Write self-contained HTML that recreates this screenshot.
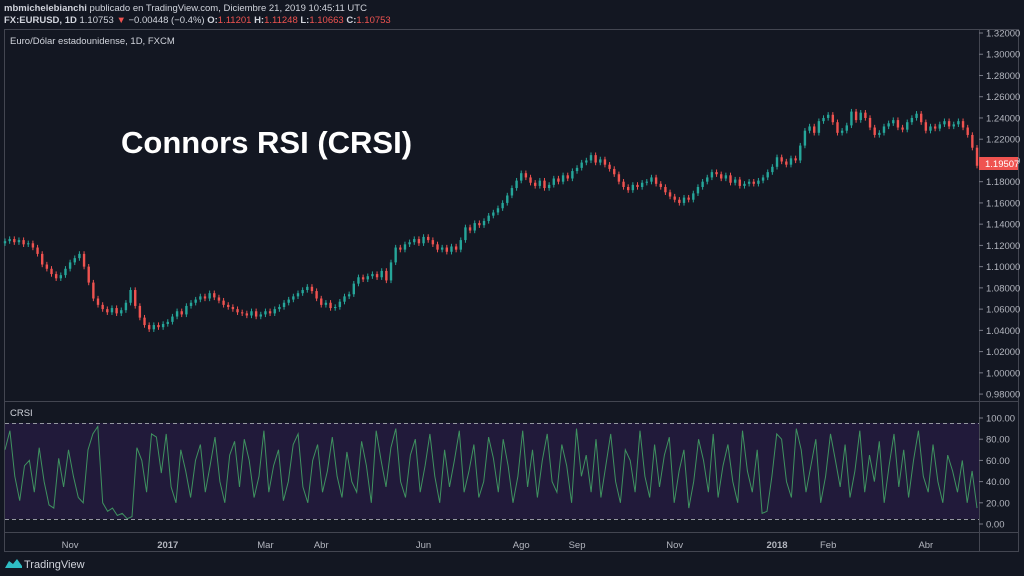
<!DOCTYPE html>
<html><head><meta charset="utf-8"><style>
html,body{margin:0;padding:0;background:#131722;width:1024px;height:576px;overflow:hidden;font-family:"Liberation Sans",sans-serif;}
svg{display:block}
</style></head><body>
<svg id="c" width="1024" height="576" xmlns="http://www.w3.org/2000/svg">
<rect x="0" y="0" width="1024" height="576" fill="#131722"/>
<text x="4" y="11" font-size="9.5" fill="#d1d4dc"><tspan font-weight="bold">mbmichelebianchi</tspan> publicado en TradingView.com, Diciembre 21, 2019 10:45:11 UTC</text>
<text x="4" y="23" font-size="9.5" fill="#d1d4dc"><tspan font-weight="bold">FX:EURUSD, 1D</tspan> 1.10753 <tspan fill="#ef5350">▼</tspan> −0.00448 (−0.4%) <tspan font-weight="bold">O:</tspan><tspan fill="#ef5350">1.11201</tspan> <tspan font-weight="bold">H:</tspan><tspan fill="#ef5350">1.11248</tspan> <tspan font-weight="bold">L:</tspan><tspan fill="#ef5350">1.10663</tspan> <tspan font-weight="bold">C:</tspan><tspan fill="#ef5350">1.10753</tspan></text>
<rect x="4.5" y="29.5" width="1014" height="522" fill="none" stroke="#434651"/>
<line x1="979.5" y1="29" x2="979.5" y2="552" stroke="#434651"/>
<line x1="4" y1="401.5" x2="1019" y2="401.5" stroke="#434651"/>
<line x1="4" y1="532.5" x2="1019" y2="532.5" stroke="#434651"/>
<text x="10" y="44" font-size="9.5" fill="#d1d4dc">Euro/Dólar estadounidense, 1D, FXCM</text>
<text x="121" y="153" font-size="31" font-weight="bold" fill="#ffffff">Connors RSI (CRSI)</text>
<text x="10" y="416" font-size="9.5" fill="#d1d4dc">CRSI</text>
<rect x="5" y="423" width="974" height="96" fill="#211a3a"/>
<line x1="5" y1="423.5" x2="979" y2="423.5" stroke="#9598a1" stroke-dasharray="4,3"/>
<line x1="5" y1="519.5" x2="979" y2="519.5" stroke="#9598a1" stroke-dasharray="4,3"/>
<g id="candles"></g><g id="crsi"></g><g id="paxis"></g><g id="taxis"></g>
<rect x="979" y="157" width="39" height="13" fill="#ef5350"/>
<text x="985" y="167" font-size="9.5" fill="#ffffff">1.19507</text>
<g>
<path d="M5 568 L9 561 L13 564 L17 559 L22 566 L22 568 Z" fill="#2ebdc4"/>
<text x="24" y="568" font-size="11" fill="#d1d4dc">TradingView</text>
</g>
</svg>
<script>
const closes=[1.124,1.126,1.123,1.125,1.121,1.122,1.118,1.112,1.102,1.098,
1.093,1.089,1.092,1.098,1.104,1.108,1.112,1.100,1.085,1.070,
1.064,1.060,1.057,1.061,1.056,1.059,1.066,1.078,1.063,1.052,
1.045,1.041,1.045,1.043,1.046,1.048,1.053,1.058,1.055,1.063,
1.066,1.069,1.072,1.070,1.075,1.071,1.068,1.064,1.062,1.060,
1.057,1.056,1.054,1.058,1.053,1.055,1.058,1.056,1.060,1.062,
1.066,1.069,1.072,1.075,1.078,1.081,1.077,1.070,1.064,1.066,
1.061,1.062,1.067,1.072,1.074,1.084,1.090,1.088,1.091,1.093,
1.090,1.096,1.087,1.104,1.118,1.116,1.121,1.123,1.126,1.122,
1.128,1.125,1.121,1.116,1.118,1.114,1.119,1.116,1.125,1.137,
1.134,1.141,1.139,1.143,1.148,1.151,1.155,1.160,1.167,1.174,
1.181,1.188,1.184,1.179,1.176,1.181,1.174,1.177,1.183,1.180,
1.186,1.183,1.190,1.193,1.198,1.200,1.205,1.198,1.201,1.196,
1.192,1.187,1.180,1.175,1.172,1.177,1.175,1.179,1.180,1.184,
1.178,1.175,1.170,1.166,1.163,1.160,1.165,1.163,1.169,1.175,
1.180,1.184,1.189,1.187,1.183,1.186,1.179,1.182,1.176,1.178,
1.180,1.178,1.181,1.184,1.189,1.194,1.203,1.199,1.196,1.202,
1.200,1.214,1.228,1.232,1.226,1.237,1.240,1.243,1.236,1.226,
1.228,1.233,1.246,1.238,1.245,1.240,1.231,1.224,1.226,1.232,
1.235,1.238,1.231,1.229,1.236,1.240,1.244,1.236,1.228,1.232,
1.230,1.234,1.237,1.232,1.234,1.237,1.231,1.224,1.212,1.195];
const crsiValues=[70,88,45,22,55,60,30,72,40,18,15,62,35,70,45,25,20,70,85,92,
20,12,15,8,10,5,7,72,60,30,85,82,48,85,35,20,70,50,25,60,
75,30,55,82,40,20,65,78,35,80,60,25,45,88,30,55,70,22,40,75,
85,35,20,60,75,30,50,82,45,25,68,40,30,78,55,20,88,60,35,72,
90,40,25,65,80,30,55,85,45,20,70,35,60,88,30,50,75,25,40,82,
62,30,80,55,20,45,88,35,70,25,60,85,40,30,75,55,20,90,45,65,
30,80,25,55,85,40,20,70,60,30,88,45,25,75,35,65,82,20,50,70,
15,40,80,60,30,85,25,55,75,40,20,88,50,30,70,10,12,45,85,80,
40,25,90,70,30,55,80,20,45,85,60,35,75,25,50,88,30,65,40,78,
20,55,85,35,70,25,60,88,45,30,75,40,20,65,50,30,60,20,50,15];
const priceTicks=["1.32000","1.30000","1.28000","1.26000","1.24000","1.22000","1.20000","1.18000","1.16000","1.14000","1.12000","1.10000","1.08000","1.06000","1.04000","1.02000","1.00000","0.98000"];
const crsiTicks=["100.00","80.00","60.00","40.00","20.00","0.00"];
const timeLabels=["Nov","2017","Mar","Abr","Jun","Ago","Sep","Nov","2018","Feb","Abr"];
const timeIdx=[14,35,56,68,90,111,123,144,166,177,198];
const NS="http://www.w3.org/2000/svg";
const xOf=i=>5+i*(972/(closes.length-1));
const yP=p=>33+(1.32-p)/0.02*21.24;
const yC=v=>524-v*1.06;
function mk(t,a,parent){const e=document.createElementNS(NS,t);for(const k in a)e.setAttribute(k,a[k]);parent.appendChild(e);return e;}
const cg=document.getElementById('candles');
closes.forEach((c,i)=>{
 const o=i===0?c-0.002:closes[i-1];
 const up=c>=o;const col=up?'#26a69a':'#ef5350';
 const x=xOf(i);
 const hi=Math.max(o,c)+0.0025, lo=Math.min(o,c)-0.0025;
 const w=mk('line',{x1:x,x2:x,y1:yP(hi),y2:yP(lo),stroke:col,'stroke-width':1},cg);
 
 
 const top=yP(Math.max(o,c)),bot=yP(Math.min(o,c));
 const b=mk('rect',{x:x-1.2,y:top,width:2.4,height:Math.max(1,bot-top),fill:col},cg);
 
 
});
const pts=crsiValues.map((v,i)=>xOf(i*(closes.length-1)/(crsiValues.length-1)).toFixed(1)+','+yC(v).toFixed(1)).join(' ');
const pl=mk('polyline',{points:pts,fill:'none',stroke:'#3f9260','stroke-width':1},document.getElementById('crsi'));


const pa=document.getElementById('paxis');
priceTicks.forEach(t=>{const y=yP(parseFloat(t));
 mk('line',{x1:979,x2:983,y1:y,y2:y,stroke:'#787b86'},pa);
 const e=mk('text',{x:986,y:y+3.5,'font-size':9.5,fill:'#b2b5be'},pa);e.textContent=t;
 
 });
crsiTicks.forEach(t=>{const y=yC(parseFloat(t));
 mk('line',{x1:979,x2:983,y1:y,y2:y,stroke:'#787b86'},pa);
 const e=mk('text',{x:986,y:y+3.5,'font-size':9.5,fill:'#b2b5be'},pa);e.textContent=t;
 
 });
const ta=document.getElementById('taxis');
timeLabels.forEach((t,k)=>{const x=xOf(timeIdx[k]);
 const e=mk('text',{x:x,y:548,'font-size':9.5,fill:'#b2b5be','text-anchor':'middle','font-weight':(t.length===4?'bold':'normal')},ta);e.textContent=t;
 
 });
</script>
</body></html>
